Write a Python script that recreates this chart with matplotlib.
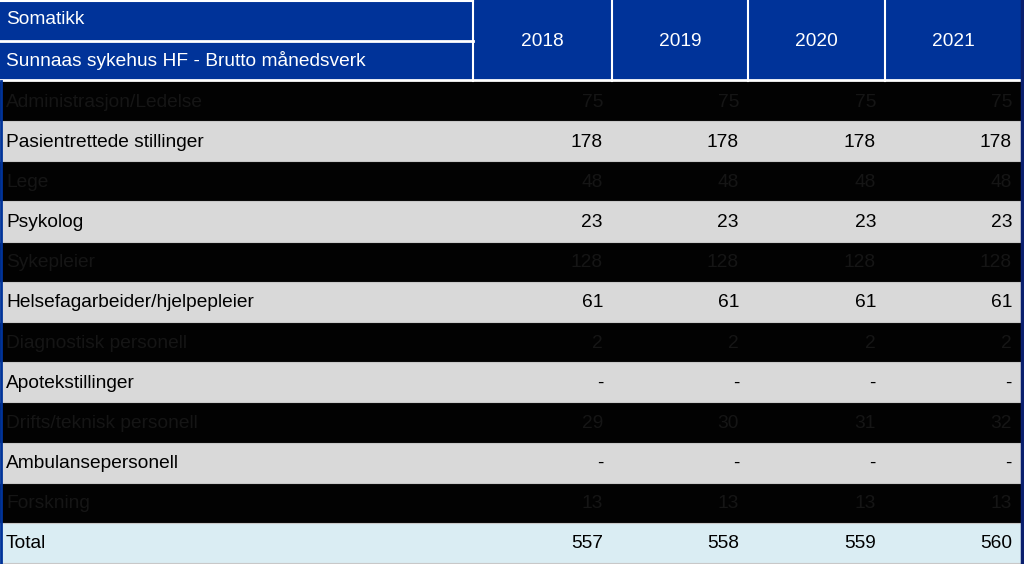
import matplotlib.pyplot as plt
from matplotlib.patches import Rectangle

plt.rcParams['font.family'] = ['Liberation Sans', 'DejaVu Sans']

years = ["2018", "2019", "2020", "2021"]
title_top = "Somatikk"
title_bottom = "Sunnaas sykehus HF - Brutto månedsverk"
categories = [
    "Administrasjon/Ledelse",
    "Pasientrettede stillinger",
    "Lege",
    "Psykolog",
    "Sykepleier",
    "Helsefagarbeider/hjelpepleier",
    "Diagnostisk personell",
    "Apotekstillinger",
    "Drifts/teknisk personell",
    "Ambulansepersonell",
    "Forskning",
    "Total",
]
values = [
    ["75", "75", "75", "75"],
    ["178", "178", "178", "178"],
    ["48", "48", "48", "48"],
    ["23", "23", "23", "23"],
    ["128", "128", "128", "128"],
    ["61", "61", "61", "61"],
    ["2", "2", "2", "2"],
    ["-", "-", "-", "-"],
    ["29", "30", "31", "32"],
    ["-", "-", "-", "-"],
    ["13", "13", "13", "13"],
    ["557", "558", "559", "560"],
]

W, H = 1024, 564
blue = "#003399"
dark_row = "#020202"
dark_text = "#151515"
grey_row = "#d9d9d9"
total_row = "#daedf3"

fig = plt.figure(figsize=(W / 100, H / 100), dpi=100)
ax = fig.add_axes([0, 0, 1, 1])
ax.set_xlim(0, W)
ax.set_ylim(H, 0)
ax.axis("off")

col_edges = [0, 473, 612, 748, 885, 1021]
head_h = 81
row_h = (H - 1 - head_h) / len(categories)
fs = 13.8

# header
ax.add_patch(Rectangle((0, 0), 1021, head_h, color=blue, lw=0))
ax.plot([0, 473], [1, 1], color="white", lw=1.5)
ax.plot([0, 473], [41, 41], color="white", lw=2)
ax.plot([0, 1021], [head_h - 1, head_h - 1], color="white", lw=2)
for x in col_edges[1:-1]:
    ax.plot([x, x], [0, head_h], color="white", lw=1.5)
ax.text(6, 20, title_top, color="white", fontsize=fs, va="center", ha="left")
ax.text(6, 61, title_bottom, color="white", fontsize=fs, va="center", ha="left")
for i, yr in enumerate(years):
    cx = (col_edges[i + 1] + col_edges[i + 2]) / 2
    ax.text(cx, 41, yr, color="white", fontsize=fs, va="center", ha="center")

# body rows
for r, (cat, vals) in enumerate(zip(categories, values)):
    y0 = head_h + r * row_h
    if r == len(categories) - 1:
        bg, fg = total_row, "black"
    elif r % 2 == 0:
        bg, fg = dark_row, dark_text
    else:
        bg, fg = grey_row, "black"
    ax.add_patch(Rectangle((0, y0), 1021, row_h, color=bg, lw=0))
    ax.plot([0, 1021], [y0 + row_h, y0 + row_h], color="#c8c8c8", lw=0.8)
    yc = y0 + row_h / 2 + 1
    ax.text(6, yc, cat, color=fg, fontsize=fs, va="center", ha="left")
    for i, v in enumerate(vals):
        ax.text(col_edges[i + 2] - 9, yc, v, color=fg, fontsize=fs,
                va="center", ha="right")

# frame edges
ax.plot([1, 1], [head_h, H], color=blue, lw=2)
ax.plot([1022, 1022], [0, H], color="#0a1f6e", lw=2.5)

fig.savefig("out.png", dpi=100)
